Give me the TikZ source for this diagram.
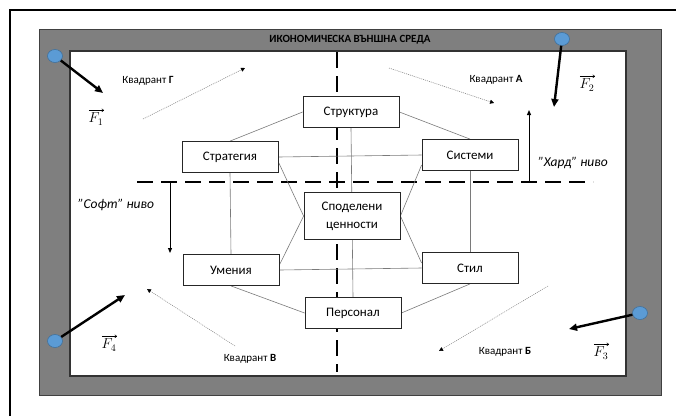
\documentclass[tikz,border=0pt]{standalone}
\usepackage{fontspec}
\setmainfont{Carlito}
\usetikzlibrary{arrows.meta,calc,shapes.geometric}
\pgfdeclarelayer{bg}
\pgfsetlayers{bg,main}
\definecolor{framegray}{HTML}{7F7F7F}
\definecolor{dotblue}{HTML}{5B9BD5}
\definecolor{dotedge}{HTML}{41719C}
\definecolor{linkgray}{HTML}{7A7A7A}
\begin{document}
\begin{tikzpicture}[x=1pt,y=-1pt,
  box/.style={draw=black!85, line width=0.8pt, fill=white, minimum width=96pt, minimum height=31pt, inner sep=0pt, align=center, font=\fontsize{13}{18}\selectfont},
  link/.style={draw=linkgray, line width=0.6pt},
  heavydash/.style={line width=2.6pt, dash pattern=on 16pt off 8pt},
  force/.style={line width=2.4pt, -{Triangle[length=8pt,width=7pt]}},
  dotarrow/.style={draw=gray, line width=0.5pt, dash pattern=on 1pt off 1pt, -{Triangle[length=4pt,width=4pt,color=black]}},
  levelarrow/.style={line width=1pt,-{Triangle[length=5pt,width=4pt]}},
  pin/.style={ellipse, fill=dotblue, draw=dotedge, line width=0.6pt, minimum width=15pt, minimum height=13pt, inner sep=0pt},
  quad/.style={font=\fontsize{11}{13}\selectfont},
  lvl/.style={font=\itshape\fontsize{13.5}{15}\selectfont},
  flabel/.style={font=\fontsize{14}{16}\selectfont, inner sep=0.5pt},
  vecarrow/.style={line width=0.5pt, -{To[length=2.5pt,width=3.5pt]}}
]
\useasboundingbox (0,0) rectangle (676,416);
\begin{pgfonlayer}{bg}
  % outer frame lines
  \draw[line width=2pt] (10,416) -- (10,10) -- (676,10);
  % gray band and white field
  \draw[fill=framegray, draw=black!75, line width=0.8pt] (39,29) rectangle (661,395);
  \draw[fill=white, draw=black!80, line width=1.2pt] (70,51) rectangle (626,376);
  % heavy dashed axes
  \draw[heavydash] (337,52) -- (337,372);
  \draw[heavydash] (137,182) -- (593,182);
\end{pgfonlayer}

\node[font=\bfseries\fontsize{11}{13}\selectfont] (title) at (350,40) {ИКОНОМИЧЕСКА ВЪНШНА СРЕДА};

% boxes
\node[box] (str) at (351,112) {Структура};
\node[box] (strat) at (230,157) {Стратегия};
\node[box] (sys) at (470,155) {Системи};
\node[box, minimum height=47pt] (shared) at (352,216) {Споделени\\ценности};
\node[box] (um) at (231,270) {Умения};
\node[box] (stil) at (470,268) {Стил};
\node[box] (pers) at (353,313) {Персонал};

\begin{pgfonlayer}{bg}
  \draw[link] (str.west) -- (strat.north);
  \draw[link] (str.east) -- (sys.north);
  \draw[link] (str.south) -- (pers.north);
  \draw[link] (strat.east) -- (sys.west);
  \draw[link] ($(strat.east)+(0,5)$) -- (shared.west);
  \draw[link] (strat.south) -- (um.north);
  \draw[link] ($(sys.west)+(0,10)$) -- (shared.east);
  \draw[link] (sys.south) -- (stil.north);
  \draw[link] ($(um.east)+(0,-5)$) -- (shared.west);
  \draw[link] (um.east) -- (stil.west);
  \draw[link] ($(stil.west)+(0,-5)$) -- (shared.east);
  \draw[link] (um.south) -- (pers.west);
  \draw[link] (stil.south) -- (pers.east);
\end{pgfonlayer}

% level arrows
\coordinate (hardbase) at (529,182);
\coordinate (hardtip) at (529,110);
\draw[levelarrow] (hardbase) -- (hardtip);
\draw[line width=1pt] ($(hardbase)+(-5,0)$) -- ($(hardbase)+(5,0)$);
\node[lvl] (hard) at (573,163) {"Хард" ниво};
\coordinate (softbase) at (170,182);
\coordinate (softtip) at (170,253);
\draw[levelarrow] (softbase) -- (softtip);
\draw[line width=1pt] ($(softbase)+(-5,0)$) -- ($(softbase)+(5,0)$);
\node[lvl] (soft) at (116,205) {"Софт" ниво};

% quadrant labels
\node[quad] (qg) at (148,81) {Квадрант \textbf{Г}};
\node[quad] (qa) at (496,80) {Квадрант \textbf{А}};
\node[quad] (qv) at (250,359) {Квадрант \textbf{В}};
\node[quad] (qb) at (505,352) {Квадрант \textbf{Б}};

% dotted arrows
\coordinate (d1s) at (143,119); \coordinate (d1e) at (245,68);
\coordinate (d2s) at (389,68);  \coordinate (d2e) at (494,103);
\coordinate (d3s) at (235,346); \coordinate (d3e) at (147,289);
\coordinate (d4s) at (548,286); \coordinate (d4e) at (439,351);
\draw[dotarrow] (d1s) -- (d1e);
\draw[dotarrow] (d2s) -- (d2e);
\draw[dotarrow] (d3s) -- (d3e);
\draw[dotarrow] (d4s) -- (d4e);

% forces
\coordinate (f1e) at (103,93);
\coordinate (f2e) at (554,107);
\coordinate (f3e) at (569,329);
\coordinate (f4e) at (125,295);
\node[pin] (p1) at (55,56) {};
\node[pin] (p2) at (562,39) {};
\node[pin] (p3) at (640,313) {};
\node[pin] (p4) at (55,341) {};
\draw[force] (p1) -- (f1e);
\draw[force] (p2) -- (f2e);
\draw[force] (p3) -- (f3e);
\draw[force] (p4) -- (f4e);
\node[flabel] (lf1) at (96,119) {$F_1$};
\node[flabel] (lf2) at (587,85) {$F_2$};
\node[flabel] (lf3) at (601,353) {$F_3$};
\node[flabel] (lf4) at (109,345) {$F_4$};
\foreach \f in {lf1,lf2,lf3,lf4}
  \draw[vecarrow] ($(\f.north west)+(1,-2)$) -- ($(\f.north east)+(0,-2)$);
\end{tikzpicture}
\end{document}
